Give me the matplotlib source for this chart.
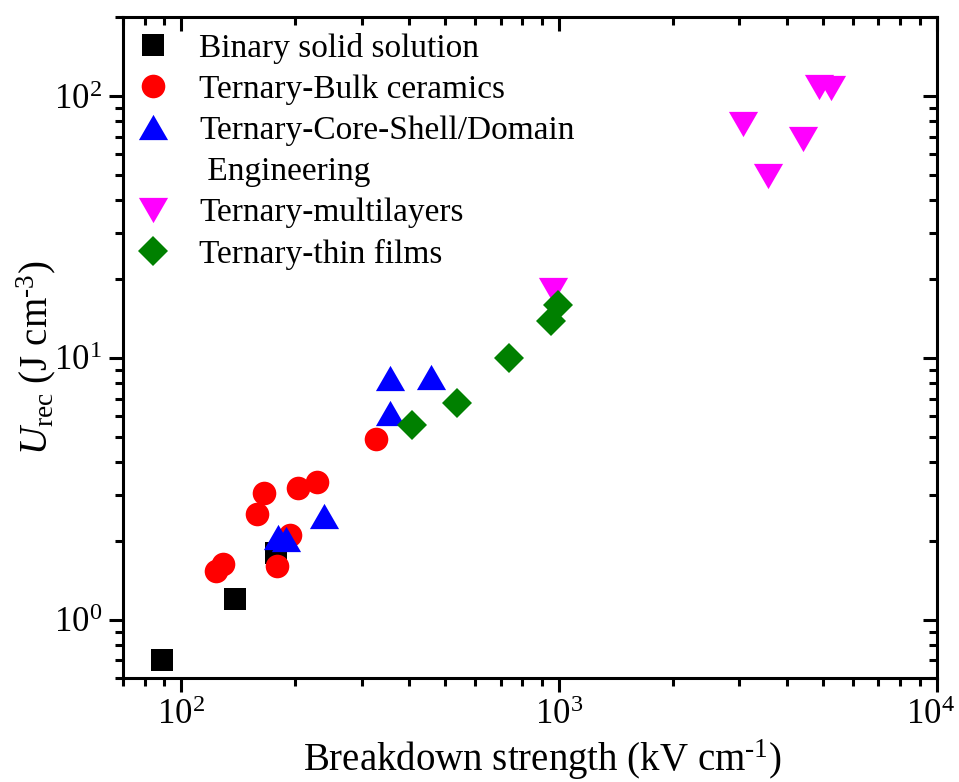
import matplotlib
matplotlib.use("Agg")
import matplotlib.pyplot as plt
from matplotlib.lines import Line2D
from matplotlib.transforms import ScaledTranslation

plt.rcParams['font.family'] = ['Liberation Serif', 'DejaVu Serif']
plt.rcParams['mathtext.fontset'] = 'custom'
plt.rcParams['mathtext.rm'] = 'Liberation Serif'
plt.rcParams['mathtext.it'] = 'Liberation Serif:italic'

# Breakdown strength (kV/cm) and recoverable energy density (J/cm^3)
binary_E = [89, 139, 178]
binary_U = [0.70, 1.20, 1.80]

bulk_E = [123.5, 129, 159, 165.6, 194, 178.7, 204, 228, 327]
bulk_U = [1.54, 1.64, 2.54, 3.05, 2.10, 1.61, 3.19, 3.36, 4.92]

core_E = [180, 189, 238, 357, 357, 458]
core_U = [2.07, 2.04, 2.50, 6.19, 8.38, 8.46]

multi_E = [966, 3076, 3581, 4426, 4876, 5248]
multi_U = [18.2, 78.1, 49.5, 68.4, 108.6, 107.0]

film_E = [407, 536, 738, 951, 996]
film_U = [5.54, 6.71, 9.97, 13.9, 15.9]

x_major = [1e2, 1e3, 1e4]

labels = ["Binary solid solution", "Ternary-Bulk ceramics",
          "Ternary-Core-Shell/Domain", " Engineering",
          "Ternary-multilayers", "Ternary-thin films"]

tri_up = [(0, 0.866), (-1, -0.866), (1, -0.866), (0, 0.866)]
tri_dn = [(0, -0.866), (-1, 0.866), (1, 0.866), (0, -0.866)]

fig = plt.figure(figsize=(9.59, 7.82), dpi=100)
ax = fig.add_axes([0.128, 0.133, 0.849, 0.845])

series = [
    (binary_E, binary_U, dict(marker='s', color='black', ms=16)),
    (bulk_E, bulk_U, dict(marker='o', color='red', ms=17)),
    (core_E, core_U, dict(marker=tri_up, color='blue', ms=21)),
    (multi_E, multi_U, dict(marker=tri_dn, color='magenta', ms=21)),
    (film_E, film_U, dict(marker='D', color='green', ms=15)),
]
handles = []
for E, U, st in series:
    h, = ax.plot(E, U, linestyle='none', markeredgewidth=0, **st)
    handles.append(h)

ax.set_xscale('log')
ax.set_yscale('log')
ax.set_xlim(70, 1e4)
ax.set_ylim(0.6, 200)
ax.set_xticks(x_major)

for s in ax.spines.values():
    s.set_linewidth(2.2)
ax.tick_params(which='major', direction='out', length=10, width=2.2,
               labelsize=25, pad=5)
ax.tick_params(which='minor', direction='out', length=6, width=2.2)

secx = ax.secondary_xaxis('top')
secy = ax.secondary_yaxis('right')
for sec in (secx, secy):
    sec.tick_params(which='major', direction='in', length=10, width=2.2)
    sec.tick_params(which='minor', direction='in', length=6, width=2.2)
    sec.tick_params(which='both', labelleft=False, labelright=False,
                    labeltop=False, labelbottom=False)

HY = "\u2010"
ax.set_xlabel('Breakdown strength (kV cm$^{\\mathrm{' + HY + '1}}$)', fontsize=28)
ax.xaxis.set_label_coords(0.516, -0.090)
ax.set_ylabel('$\\mathit{U}_{\\mathrm{rec}}$ (J cm$^{\\mathrm{' + HY + '3}}$)', fontsize=28)
ax.yaxis.set_label_coords(-0.079, 0.485)

blank = Line2D([], [], linestyle='none', marker=None)
leg_handles = [handles[0], handles[1], handles[2], blank, handles[3], handles[4]]
ax.legend(leg_handles, labels, loc='upper left', bbox_to_anchor=(0.0, 0.997),
          frameon=False, fontsize=24, handlelength=1.0, handletextpad=0.9,
          labelspacing=0.32, borderpad=0.2, borderaxespad=0.2)

# keep the rightmost tick label inside the canvas
fig.canvas.draw()
last = ax.xaxis.get_major_ticks()[-1].label1
last.set_transform(last.get_transform() +
                   ScaledTranslation(-5 / 72, 0, fig.dpi_scale_trans))

fig.savefig('out.png', dpi=100)
